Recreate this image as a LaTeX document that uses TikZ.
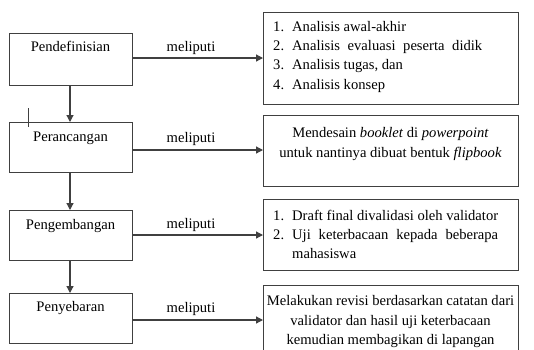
\documentclass[tikz,border=0pt]{standalone}
\usepackage{fontspec}
\setmainfont{Liberation Serif}
\usetikzlibrary{arrows.meta}
\tikzset{
  boxl/.style={draw=linec, line width=1.2pt, rectangle, inner sep=0pt, anchor=north west},
  txt/.style={inner sep=0pt, anchor=base, font=\fontsize{14.6}{19}\selectfont, text=black},
  txtw/.style={txt, anchor=base west},
  conn/.style={draw=linec, line width=1.2pt, -{Triangle[length=7pt,width=7pt]}},
}
\definecolor{linec}{HTML}{404040}
\begin{document}
\begin{tikzpicture}[x=1pt,y=-1pt]
\clip (0,0) rectangle (534,349);
\fill[white] (0,0) rectangle (534,349);
% left boxes
\node[boxl, minimum width=123pt, minimum height=52pt] (p1) at (9,32.5) {};
\node[boxl, minimum width=123pt, minimum height=50pt] (p2) at (9,122) {};
\node[boxl, minimum width=123pt, minimum height=50pt] (p3) at (9,210) {};
\node[boxl, minimum width=123pt, minimum height=50pt] (p4) at (9,293) {};
\node[txt] (t1) at (70.5,51.7) {Pendefinisian};
\node[txt] (t2) at (70.5,141.5) {Perancangan};
\node[txt] (t3) at (70.5,229.5) {Pengembangan};
\node[txt] (t4) at (70.5,311.5) {Penyebaran};
% right boxes
\node[boxl, minimum width=255pt, minimum height=92pt] (r1) at (263,12) {};
\node[boxl, minimum width=255pt, minimum height=71pt] (r2) at (263,115) {};
\node[boxl, minimum width=255pt, minimum height=71pt] (r3) at (263,199) {};
\node[boxl, minimum width=255pt, minimum height=80pt] (r4) at (263,285) {};
% connectors
\coordinate (a1) at (132,58); \coordinate (a2) at (132,150);
\coordinate (a3) at (132,235); \coordinate (a4) at (132,320);
\draw[conn] (a1) -- (a1 -| r1.west);
\draw[conn] (a2) -- (a2 -| r2.west);
\draw[conn] (a3) -- (a3 -| r3.west);
\draw[conn] (a4) -- (a4 -| r4.west);
\draw[conn] (p1.south -| 70,0) -- (p2.north -| 70,0);
\draw[conn] (p2.south -| 70,0) -- (p3.north -| 70,0);
\draw[conn] (p3.south -| 70,0) -- (p4.north -| 70,0);
\node[txt] (m1) at (191,51) {meliputi};
\node[txt] (m2) at (191,142) {meliputi};
\node[txt] (m3) at (191,228) {meliputi};
\node[txt] (m4) at (191,312) {meliputi};
% stray tick
\draw[linec, line width=0.8pt] (28,108) -- (28,127);
% right texts
\node[txtw] (n11) at (273,31) {1.};
\node[txtw] (l11) at (292,31) {Analisis awal-akhir};
\node[txtw] (n12) at (273,50.5) {2.};
\node[txtw] (l12) at (292,50.5) {\makebox[190pt][s]{Analisis evaluasi peserta didik}};
\node[txtw] (n13) at (273,69.5) {3.};
\node[txtw] (l13) at (292,69.5) {Analisis tugas, dan};
\node[txtw] (n14) at (273,89) {4.};
\node[txtw] (l14) at (292,89) {Analisis konsep};
\node[txt] (l21) at (390.5,137) {Mendesain \textit{booklet} di \textit{powerpoint}};
\node[txt] (l22) at (390.5,157.5) {untuk nantinya dibuat bentuk \textit{flipbook}};
\node[txtw] (n31) at (273,220) {1.};
\node[txtw] (l31) at (292,220) {Draft final divalidasi oleh validator};
\node[txtw] (n32) at (273,239) {2.};
\node[txtw] (l32) at (292,239) {\makebox[206pt][s]{Uji keterbacaan kepada beberapa}};
\node[txtw] (l33) at (292,258) {mahasiswa};
\node[txt] (l41) at (390.5,305) {Melakukan revisi berdasarkan catatan dari};
\node[txt] (l42) at (390.5,325) {validator dan hasil uji keterbacaan};
\node[txt] (l43) at (390.5,344) {kemudian membagikan di lapangan};
\end{tikzpicture}
\end{document}
